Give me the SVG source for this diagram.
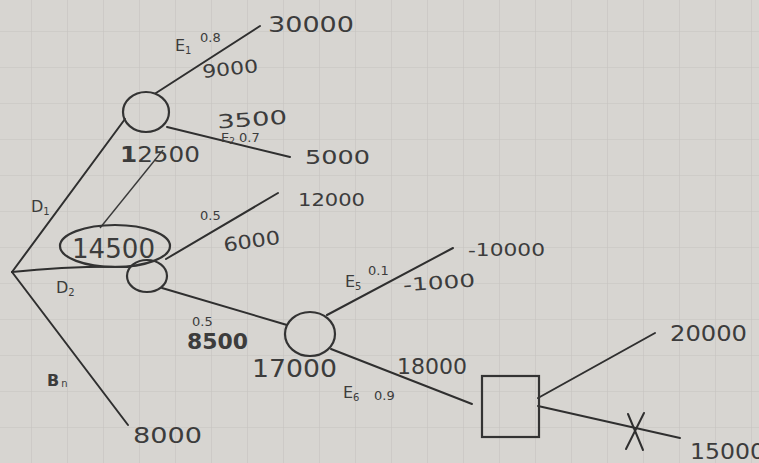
<svg xmlns="http://www.w3.org/2000/svg" width="759" height="463" viewBox="0 0 759 463">
  <defs>
    <pattern id="grid" x="-4" y="-4" width="36" height="36" patternUnits="userSpaceOnUse">
      <path d="M36 0 V36 M0 36 H36" fill="none" stroke="#c6c4c0" stroke-width="1.2"/>
    </pattern>
    <style>
      .ln { stroke: #2f2f2f; stroke-width: 2; fill: none; stroke-linecap: round; }
      .thin { stroke: #3a3a3a; stroke-width: 1.4; fill: none; }
      .node { stroke: #333; stroke-width: 2.2; fill: none; }
      text { font-family: "DejaVu Sans", "Liberation Sans", sans-serif; fill: #3c3c3c; }
      .p { font-size: 13px; }
      .lab { font-size: 16px; }
      .sub { font-size: 10px; }
    </style>
  </defs>

  <!-- paper with faint squared grid -->
  <rect width="759" height="463" fill="#d7d5d1"/>
  <rect width="759" height="463" fill="url(#grid)"/>

  <!-- connectors -->
  <g id="connectors">
    <line class="ln" x1="12" y1="272" x2="125" y2="119"/>
    <line class="ln" x1="156" y1="93" x2="260" y2="26"/>
    <line class="ln" x1="167" y1="127" x2="290" y2="157"/>
    <line class="thin" x1="100" y1="228" x2="163" y2="150"/>
    <path class="ln" d="M12 272 Q70 266 128 267"/>
    <line class="ln" x1="166" y1="259" x2="278" y2="193"/>
    <line class="ln" x1="162" y1="288" x2="287" y2="325"/>
    <line class="ln" x1="12" y1="272" x2="128" y2="425"/>
    <line class="ln" x1="327" y1="315" x2="453" y2="248"/>
    <line class="ln" x1="331" y1="349" x2="472" y2="404"/>
    <line class="ln" x1="538" y1="398" x2="655" y2="333"/>
    <line class="ln" x1="538" y1="406" x2="680" y2="438"/>
    <!-- rejected branch -->
    <line class="ln" x1="628" y1="414" x2="643" y2="450"/>
    <line class="ln" x1="644" y1="413" x2="626" y2="449"/>
  </g>

  <!-- chance node E1/E2 -->
  <g id="chance-1">
    <ellipse class="node" cx="146" cy="112" rx="23" ry="20"/>
    <text x="120" y="162" font-size="22" textLength="80" lengthAdjust="spacingAndGlyphs"><tspan font-weight="bold">1</tspan>2500</text>
  </g>

  <!-- chance node under D2 -->
  <g id="chance-2">
    <ellipse class="node" cx="147" cy="276" rx="20" ry="16"/>
    <ellipse class="node" cx="115" cy="246" rx="55" ry="21"/>
    <text x="72" y="258" font-size="26" textLength="83" lengthAdjust="spacingAndGlyphs">14500</text>
  </g>

  <!-- chance node E5/E6 -->
  <g id="chance-3">
    <ellipse class="node" cx="310" cy="334" rx="25" ry="22"/>
    <text x="252" y="377" font-size="24" textLength="85" lengthAdjust="spacingAndGlyphs">17000</text>
  </g>

  <!-- decision node -->
  <g id="decision">
    <rect class="node" x="482" y="376" width="57" height="61"/>
  </g>

  <!-- branch labels and payoffs -->
  <g id="labels">
    <text class="lab" x="31" y="212">D<tspan class="sub" dy="3">1</tspan></text>
    <text class="lab" x="56" y="293">D<tspan class="sub" dy="3">2</tspan></text>
    <text class="lab" x="47" y="386" font-weight="bold">B<tspan class="sub" font-weight="normal" dx="2" dy="1">n</tspan></text>

    <text class="lab" x="175" y="51">E<tspan class="sub" dy="3">1</tspan></text>
    <text class="p" x="200" y="42">0.8</text>
    <text x="202" y="75" font-size="18" textLength="56" lengthAdjust="spacingAndGlyphs" transform="rotate(-6 230 68)">9000</text>
    <text x="268" y="32" font-size="21" textLength="86" lengthAdjust="spacingAndGlyphs">30000</text>

    <text x="217" y="126" font-size="19" textLength="70" lengthAdjust="spacingAndGlyphs" transform="rotate(-4 252 118)">3500</text>
    <text class="p" x="221" y="142">E<tspan font-size="9" dy="2">2</tspan><tspan dy="-2"> 0.7</tspan></text>
    <text x="305" y="164" font-size="20" textLength="65" lengthAdjust="spacingAndGlyphs">5000</text>

    <text class="p" x="200" y="220">0.5</text>
    <text x="223" y="248" font-size="19" textLength="57" lengthAdjust="spacingAndGlyphs" transform="rotate(-8 251 240)">6000</text>
    <text x="298" y="206" font-size="18" textLength="67" lengthAdjust="spacingAndGlyphs">12000</text>

    <text x="133" y="443" font-size="22" textLength="69" lengthAdjust="spacingAndGlyphs">8000</text>

    <text class="p" x="192" y="326">0.5</text>
    <text x="187" y="349" font-size="21" font-weight="bold" textLength="61" lengthAdjust="spacingAndGlyphs">8500</text>

    <text class="lab" x="345" y="287">E<tspan class="sub" dy="3">5</tspan></text>
    <text class="p" x="368" y="275">0.1</text>
    <text x="403" y="289" font-size="18" textLength="72" lengthAdjust="spacingAndGlyphs" transform="rotate(-4 439 282)">-1000</text>
    <text x="468" y="256" font-size="17" textLength="77" lengthAdjust="spacingAndGlyphs">-10000</text>

    <text x="397" y="374" font-size="21" textLength="70" lengthAdjust="spacingAndGlyphs">18000</text>
    <text class="lab" x="343" y="398">E<tspan class="sub" dy="3">6</tspan></text>
    <text class="p" x="374" y="400">0.9</text>

    <text x="670" y="341" font-size="21" textLength="77" lengthAdjust="spacingAndGlyphs">20000</text>
    <text x="690" y="459" font-size="22" textLength="75" lengthAdjust="spacingAndGlyphs">15000</text>
  </g>
</svg>
